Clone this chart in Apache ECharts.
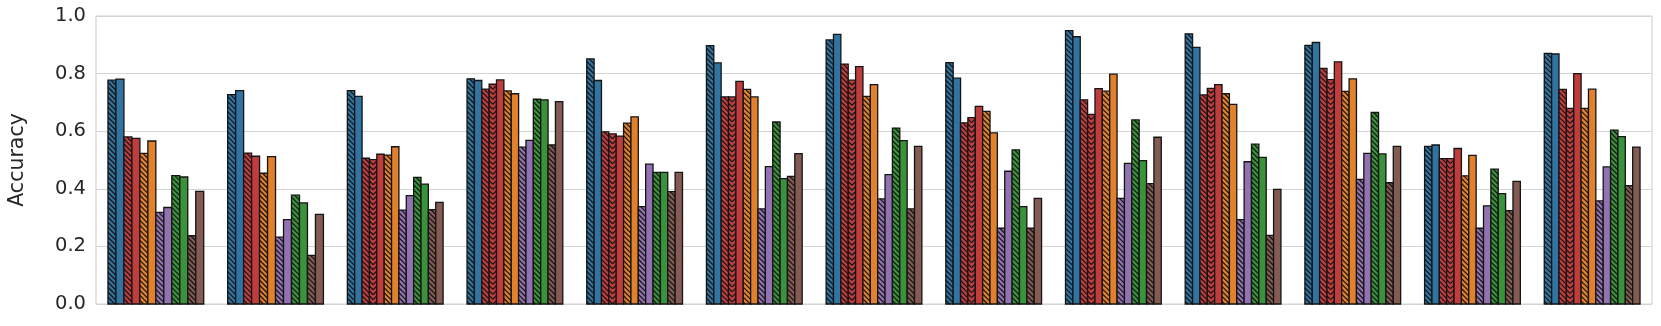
<!DOCTYPE html>
<html>
<head>
<meta charset="utf-8">
<script src="https://cdn.jsdelivr.net/npm/echarts@6/dist/echarts.min.js"></script>
<style>
  html, body { margin: 0; padding: 0; background: #fff; }
  #chart { width: 1661px; height: 326px; }
</style>
</head>
<body>
<div id="chart"></div>
<script>
// 13 groups on the x axis (no tick labels shown)
const groups = ['1', '2', '3', '4', '5', '6', '7', '8', '9', '10', '11', '12', '13'];

// accuracy per method, one value per group (null = method absent in that group)
const blueHatch   = [0.777, 0.727, 0.741, 0.782, 0.851, 0.897, 0.917, 0.838, 0.949, 0.938, 0.898, 0.547, 0.870];
const bluePlain   = [0.781, 0.741, 0.721, 0.776, 0.776, 0.837, 0.936, 0.784, 0.928, 0.891, 0.908, 0.552, 0.868];
const redHatch    = [0.580, 0.524, 0.506, 0.746, 0.598, 0.719, 0.833, 0.629, 0.709, 0.726, 0.818, 0.505, 0.745];
const redChevron  = [null,  null,  0.501, 0.763, 0.591, 0.719, 0.777, 0.647, 0.658, 0.749, 0.779, 0.505, 0.679];
const redPlain    = [0.575, 0.513, 0.520, 0.778, 0.583, 0.773, 0.824, 0.686, 0.748, 0.762, 0.841, 0.540, 0.800];
const orangeHatch = [0.523, 0.454, 0.517, 0.740, 0.628, 0.745, 0.721, 0.669, 0.739, 0.730, 0.738, 0.445, 0.679];
const orangePlain = [0.566, 0.512, 0.546, 0.730, 0.650, 0.719, 0.762, 0.594, 0.798, 0.693, 0.782, 0.516, 0.746];
const purpleHatch = [0.318, 0.232, 0.326, 0.545, 0.338, 0.330, 0.365, 0.263, 0.367, 0.293, 0.433, 0.263, 0.358];
const purplePlain = [0.335, 0.293, 0.376, 0.568, 0.486, 0.477, 0.449, 0.461, 0.488, 0.494, 0.523, 0.341, 0.476];
const greenHatch  = [0.446, 0.378, 0.440, 0.711, 0.457, 0.632, 0.611, 0.535, 0.639, 0.555, 0.665, 0.468, 0.604];
const greenPlain  = [0.441, 0.351, 0.416, 0.709, 0.457, 0.435, 0.567, 0.338, 0.498, 0.509, 0.521, 0.383, 0.581];
const brownHatch  = [0.237, 0.169, 0.328, 0.552, 0.390, 0.443, 0.330, 0.263, 0.418, 0.238, 0.421, 0.324, 0.411];
const brownPlain  = [0.391, 0.311, 0.353, 0.703, 0.457, 0.522, 0.547, 0.367, 0.579, 0.398, 0.547, 0.426, 0.545];

const yTicks = [0, 0.2, 0.4, 0.6, 0.8, 1.0];

// styles
const methods = [
  { data: blueHatch,   color: '#3274a1', hatch: 'diag' },
  { data: bluePlain,   color: '#3274a1', hatch: null },
  { data: redHatch,    color: '#c03d3e', hatch: 'diag' },
  { data: redChevron,  color: '#c03d3e', hatch: 'chevron' },
  { data: redPlain,    color: '#c03d3e', hatch: null },
  { data: orangeHatch, color: '#e1812c', hatch: 'diag' },
  { data: orangePlain, color: '#e1812c', hatch: null },
  { data: purpleHatch, color: '#9372b2', hatch: 'diag' },
  { data: purplePlain, color: '#9372b2', hatch: null },
  { data: greenHatch,  color: '#3a923a', hatch: 'diag' },
  { data: greenPlain,  color: '#3a923a', hatch: null },
  { data: brownHatch,  color: '#845b53', hatch: 'diag' },
  { data: brownPlain,  color: '#845b53', hatch: null }
];

// which methods have a bar in each group
const present = groups.map((g, gi) =>
  methods.map((m, mi) => (m.data[gi] == null ? -1 : mi)).filter(i => i >= 0)
);

const HATCH_STEP = 5;
const EDGE = '#141414';

// "\" lines clipped to the bar
function diagLines(x0, y0, w, h) {
  const out = [];
  for (let c = -w; c < h; c += HATCH_STEP) {
    const a = Math.max(0, -c), b = Math.min(w, h - c);
    if (b > a) out.push([x0 + a, y0 + a + c, x0 + b, y0 + b + c]);
  }
  return out;
}

function hatchLines(kind, x0, y0, w, h) {
  if (kind === 'diag') return diagLines(x0, y0, w, h);
  // chevron: left half "\" , right half mirrored "/"
  const left = diagLines(x0, y0, w / 2, h);
  const right = left.map(s => [2 * x0 + w - s[0], s[1], 2 * x0 + w - s[2], s[3]]);
  return left.concat(right);
}

function renderItem(params, api) {
  const gi = api.value(0);
  const v = api.value(1);
  const list = present[gi];
  const slot = list.indexOf(params.seriesIndex);
  const n = list.length;
  const band = api.size([1, 0])[0];
  const gw = band * 0.8;
  const bw = gw / n;
  const base = api.coord([gi, 0]);
  const top = api.coord([gi, v]);
  const x0 = base[0] - gw / 2 + slot * bw;
  const y0 = top[1];
  const h = base[1] - top[1];
  const m = methods[params.seriesIndex];
  const children = [{
    type: 'rect',
    shape: { x: x0, y: y0, width: bw, height: h },
    style: { fill: m.color, stroke: null }
  }];
  if (m.hatch) {
    hatchLines(m.hatch, x0, y0, bw, h).forEach(s => {
      children.push({
        type: 'line',
        shape: { x1: s[0], y1: s[1], x2: s[2], y2: s[3] },
        style: { stroke: EDGE, lineWidth: 1.2 }
      });
    });
  }
  children.push({
    type: 'rect',
    shape: { x: x0, y: y0, width: bw, height: h },
    style: { fill: null, stroke: EDGE, lineWidth: 1.3 }
  });
  return { type: 'group', children: children };
}

const chart = echarts.init(document.getElementById('chart'), null, { renderer: 'canvas' });

chart.setOption({
  animation: false,
  backgroundColor: '#fff',
  textStyle: { fontFamily: 'DejaVu Sans' },
  grid: {
    left: 96, right: 9, top: 16, bottom: 22,
    show: true, borderColor: '#d4d4d4', borderWidth: 1.2
  },
  graphic: [{
    type: 'text',
    x: 18, y: 160,
    rotation: Math.PI / 2,
    style: {
      text: 'Accuracy',
      fontSize: 20.5,
      fontFamily: 'DejaVu Sans',
      fill: '#262626',
      align: 'center',
      verticalAlign: 'middle'
    }
  }],
  xAxis: {
    type: 'category',
    data: groups,
    axisLine: { show: false },
    axisTick: { show: false },
    axisLabel: { show: false },
    splitLine: { show: false }
  },
  yAxis: {
    type: 'value',
    min: yTicks[0],
    max: yTicks[yTicks.length - 1],
    interval: 0.2,
    axisLine: { show: false },
    axisTick: { show: false },
    axisLabel: {
      fontSize: 19.5, color: '#262626', margin: 10, fontFamily: 'DejaVu Sans',
      formatter: v => v.toFixed(1)
    },
    splitLine: { lineStyle: { color: '#d4d4d4', width: 1.2 } }
  },
  series: methods.map(m => ({
    type: 'custom',
    renderItem: renderItem,
    clip: false,
    data: m.data.map((v, gi) => (v == null ? null : [gi, v])).filter(d => d)
  }))
});
</script>
</body>
</html>
